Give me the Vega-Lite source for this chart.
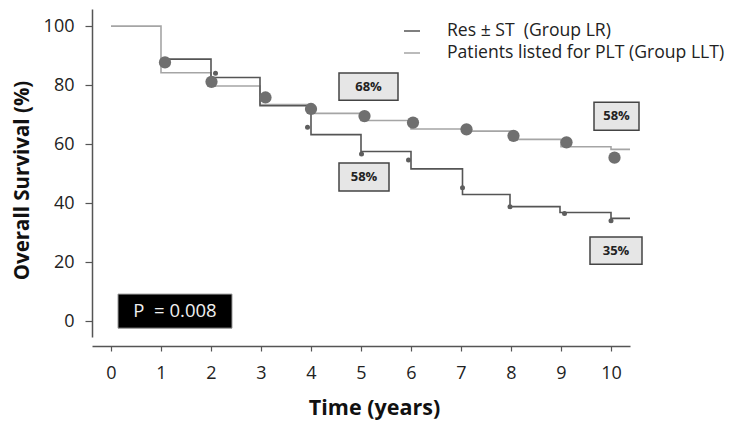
{
  "$schema": "https://vega.github.io/schema/vega-lite/v6.json",
  "width": 538,
  "height": 328,
  "autosize": "none",
  "padding": {"left": 92, "top": 9, "right": 102, "bottom": 91},
  "background": "white",
  "config": {"view": {"stroke": null}, "font": "Open Sans"},
  "datasets": {
    "curves": [
      {"group": "Patients listed for PLT (Group LLT)", "time": 0, "surv": 100},
      {"group": "Patients listed for PLT (Group LLT)", "time": 1, "surv": 84.2},
      {"group": "Patients listed for PLT (Group LLT)", "time": 2, "surv": 79.7},
      {"group": "Patients listed for PLT (Group LLT)", "time": 2.98, "surv": 73.4},
      {"group": "Patients listed for PLT (Group LLT)", "time": 4, "surv": 70.4},
      {"group": "Patients listed for PLT (Group LLT)", "time": 5, "surv": 68},
      {"group": "Patients listed for PLT (Group LLT)", "time": 6, "surv": 65.1},
      {"group": "Patients listed for PLT (Group LLT)", "time": 7.05, "surv": 64.4},
      {"group": "Patients listed for PLT (Group LLT)", "time": 8, "surv": 61.6},
      {"group": "Patients listed for PLT (Group LLT)", "time": 9, "surv": 59.1},
      {"group": "Patients listed for PLT (Group LLT)", "time": 10, "surv": 58.2},
      {"group": "Patients listed for PLT (Group LLT)", "time": 10.38, "surv": 58.2},
      {"group": "Res ± ST\u00a0 (Group LR)", "time": 1.02, "surv": 88.8},
      {"group": "Res ± ST\u00a0 (Group LR)", "time": 2, "surv": 82.6},
      {"group": "Res ± ST\u00a0 (Group LR)", "time": 2.98, "surv": 73.0},
      {"group": "Res ± ST\u00a0 (Group LR)", "time": 4, "surv": 63.2},
      {"group": "Res ± ST\u00a0 (Group LR)", "time": 5, "surv": 57.5},
      {"group": "Res ± ST\u00a0 (Group LR)", "time": 6, "surv": 51.6},
      {"group": "Res ± ST\u00a0 (Group LR)", "time": 7.03, "surv": 42.9},
      {"group": "Res ± ST\u00a0 (Group LR)", "time": 7.98, "surv": 38.8},
      {"group": "Res ± ST\u00a0 (Group LR)", "time": 8.98, "surv": 36.8},
      {"group": "Res ± ST\u00a0 (Group LR)", "time": 10, "surv": 34.8},
      {"group": "Res ± ST\u00a0 (Group LR)", "time": 10.38, "surv": 34.8}
    ],
    "bigdots": [
      {"time": 1.08, "surv": 87.7},
      {"time": 2.01, "surv": 81.1},
      {"time": 3.09, "surv": 75.8},
      {"time": 4.0, "surv": 71.9},
      {"time": 5.07, "surv": 69.5},
      {"time": 6.04, "surv": 67.3},
      {"time": 7.11, "surv": 65.0},
      {"time": 8.05, "surv": 62.8},
      {"time": 9.11, "surv": 60.6},
      {"time": 10.07, "surv": 55.4}
    ],
    "smalldots": [
      {"time": 2.09, "surv": 84.0},
      {"time": 3.93, "surv": 65.7},
      {"time": 5.01, "surv": 56.6},
      {"time": 5.95, "surv": 54.6},
      {"time": 7.03, "surv": 45.2},
      {"time": 7.98, "surv": 38.8},
      {"time": 9.07, "surv": 36.5},
      {"time": 10.0, "surv": 34.0}
    ],
    "boxes": [
      {"label": "68%", "x1": 4.56, "x2": 5.74, "y1": 74.9, "y2": 84.1, "tx": 5.15, "ty": 79.5},
      {"label": "58%", "x1": 4.56, "x2": 5.56, "y1": 44.1, "y2": 53.6, "tx": 5.06, "ty": 48.8},
      {"label": "58%", "x1": 9.66, "x2": 10.56, "y1": 64.7, "y2": 74.2, "tx": 10.11, "ty": 69.4},
      {"label": "35%", "x1": 9.58, "x2": 10.62, "y1": 19.3, "y2": 28.5, "tx": 10.1, "ty": 23.9}
    ],
    "pbox": [
      {"label": "P \u00a0= 0.008", "x1": 0.14, "x2": 2.42, "y1": -2.4, "y2": 9.15, "tx": 1.28, "ty": 3.4}
    ]
  },
  "layer": [
    {
      "data": {"name": "curves"},
      "mark": {"type": "line", "interpolate": "step-after", "strokeWidth": 1.6},
      "encoding": {
        "x": {
          "field": "time", "type": "quantitative",
          "scale": {"domain": [-0.38, 10.38], "nice": false, "zero": false},
          "axis": {
            "values": [0, 1, 2, 3, 4, 5, 6, 7, 8, 9, 10],
            "grid": false, "offset": 9, "tickSize": 5, "tickColor": "#555", "tickWidth": 1.2,
            "domainColor": "#555", "domainWidth": 1.5,
            "labelFontSize": 18, "labelColor": "#222", "labelPadding": 13,
            "title": "Time (years)", "titleFontSize": 21.5, "titleFontWeight": "bold", "titleColor": "#111",
            "titleX": 282, "titleY": 62, "titleBaseline": "middle", "titleAlign": "center"
          }
        },
        "y": {
          "field": "surv", "type": "quantitative",
          "scale": {"domain": [-5.4, 105.8], "nice": false, "zero": false},
          "axis": {
            "values": [0, 10, 20, 30, 40, 50, 60, 70, 80, 90, 100],
            "labelExpr": "datum.value % 20 == 0 ? datum.label : ''",
            "tickSize": {"expr": "datum.value % 20 == 0 ? 7 : 4"},
            "grid": false, "tickColor": "#555", "tickWidth": 1.2,
            "domainColor": "#555", "domainWidth": 1.5,
            "labelFontSize": 18, "labelColor": "#222", "labelPadding": 11,
            "title": "Overall Survival (%)", "titleFontSize": 20.5, "titleFontWeight": "bold", "titleColor": "#111",
            "titleX": -70, "titleY": 171, "titleBaseline": "middle", "titleAlign": "center", "titleAngle": -90
          }
        },
        "color": {
          "field": "group", "type": "nominal",
          "scale": {"domain": ["Res ± ST\u00a0 (Group LR)", "Patients listed for PLT (Group LLT)"], "range": ["#555555", "#a5a5a5"]},
          "legend": {
            "orient": "none", "legendX": 311, "legendY": 13, "title": null, "padding": 0,
            "symbolType": "stroke", "symbolSize": 256, "symbolStrokeWidth": 1.5,
            "labelFontSize": 17.6, "labelColor": "#222", "labelOffset": 26, "rowPadding": 4, "labelLimit": 500
          }
        }
      }
    },
    {
      "data": {"name": "bigdots"},
      "mark": {"type": "point", "filled": true, "shape": "circle", "size": 150, "color": "#6f6f6f", "opacity": 1},
      "encoding": {
        "x": {"field": "time", "type": "quantitative"},
        "y": {"field": "surv", "type": "quantitative"}
      }
    },
    {
      "data": {"name": "smalldots"},
      "mark": {"type": "point", "filled": true, "shape": "circle", "size": 25, "color": "#5e5e5e", "opacity": 1},
      "encoding": {
        "x": {"field": "time", "type": "quantitative"},
        "y": {"field": "surv", "type": "quantitative"}
      }
    },
    {
      "data": {"name": "boxes"},
      "mark": {"type": "rect", "fill": "#e6e6e6", "stroke": "#444", "strokeWidth": 1.5},
      "encoding": {
        "x": {"field": "x1", "type": "quantitative"},
        "x2": {"field": "x2"},
        "y": {"field": "y1", "type": "quantitative"},
        "y2": {"field": "y2"}
      }
    },
    {
      "data": {"name": "boxes"},
      "mark": {"type": "text", "fontSize": 13, "fontWeight": "bold", "color": "#222"},
      "encoding": {
        "x": {"field": "tx", "type": "quantitative"},
        "y": {"field": "ty", "type": "quantitative"},
        "text": {"field": "label"}
      }
    },
    {
      "data": {"name": "pbox"},
      "mark": {"type": "rect", "fill": "#000000", "stroke": "#999", "strokeWidth": 1},
      "encoding": {
        "x": {"field": "x1", "type": "quantitative"},
        "x2": {"field": "x2"},
        "y": {"field": "y1", "type": "quantitative"},
        "y2": {"field": "y2"}
      }
    },
    {
      "data": {"name": "pbox"},
      "mark": {"type": "text", "fontSize": 18.5, "color": "#f0f0f0"},
      "encoding": {
        "x": {"field": "tx", "type": "quantitative"},
        "y": {"field": "ty", "type": "quantitative"},
        "text": {"field": "label"}
      }
    }
  ]
}
